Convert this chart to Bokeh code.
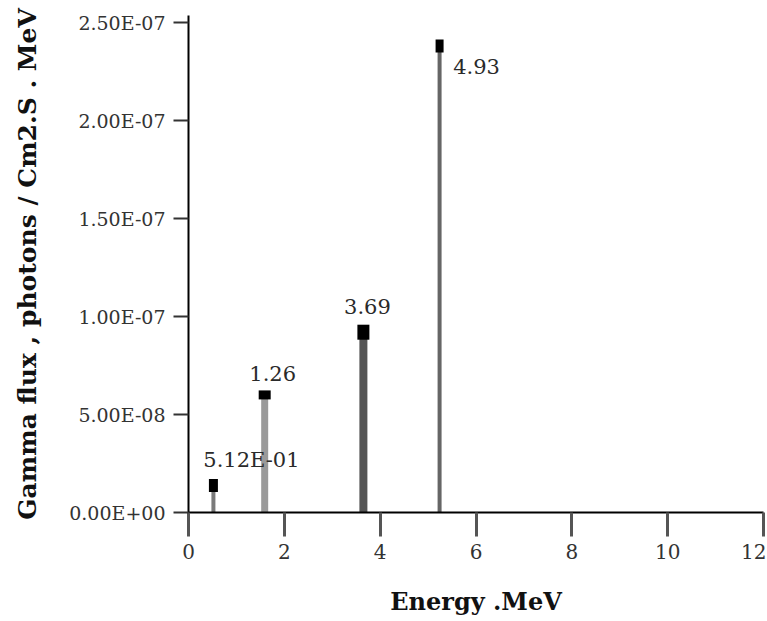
from bokeh.plotting import figure
from bokeh.models import ColumnDataSource, FixedTicker, CustomJSTickFormatter, Range1d
from bokeh.core.properties import value
from bokeh.embed import file_html
from bokeh.resources import INLINE

# Data
energy = [0.52, 1.59, 3.65, 5.24]          # bar positions (MeV, as drawn)
flux = [1.38e-8, 6.0e-8, 9.2e-8, 2.38e-7]  # gamma flux
peak_labels = ["5.12E-01", "1.26", "3.69", "4.93"]

x_ticks = [0, 2, 4, 6, 8, 10, 12]
y_ticks = [0.0, 5e-8, 1e-7, 1.5e-7, 2e-7, 2.5e-7]
y_tick_labels = ["0.00E+00", "5.00E-08", "1.00E-07", "1.50E-07", "2.00E-07", "2.50E-07"]

# Styles
bar_colors = ["#7a7a7a", "#9a9a9a", "#555555", "#666666"]
bar_widths = [4, 7, 8, 4]
mark_w = [9, 12, 12, 8]
mark_h = [13, 9, 15, 13]
lab_dx = [38, 8, 4, 37]
lab_dy = [-25, -21, -26, 20]

src = ColumnDataSource(dict(
    x=energy, y=flux, y0=[0.0] * len(energy), lab=peak_labels,
    col=bar_colors, lw=bar_widths, mw=mark_w, mh=mark_h, dx=lab_dx, dy=lab_dy,
))

p = figure(width=766, height=620, output_backend="svg", toolbar_location=None,
           x_range=Range1d(0, 12), y_range=Range1d(0, 2.536e-7),
           min_border_left=188, min_border_right=3, min_border_top=15, min_border_bottom=108)
p.outline_line_color = None
p.xgrid.visible = False
p.ygrid.visible = False
p.background_fill_color = "white"
p.border_fill_color = "white"

p.segment(x0="x", y0="y0", x1="x", y1="y", line_color="col", line_width="lw", source=src)
p.rect(x="x", y="y", width="mw", height="mh", width_units="screen", height_units="screen",
       fill_color="black", line_color=None, source=src)
p.text(x="x", y="y", text="lab", x_offset="dx", y_offset="dy", source=src,
       text_font=value("DejaVu Serif"), text_font_size="21px", text_color="#2a2a2a",
       text_align="center", text_baseline="middle")

# X axis
xa = p.xaxis[0]
xa.ticker = FixedTicker(ticks=x_ticks)
xa.axis_label = "Energy .MeV"
xa.axis_label_text_font = "DejaVu Serif"
xa.axis_label_text_font_style = "bold"
xa.axis_label_text_font_size = "24px"
xa.axis_label_text_color = "#111111"
xa.axis_label_standoff = 25
xa.major_label_text_font = "DejaVu Serif"
xa.major_label_text_font_size = "20px"
xa.major_label_text_color = "#333333"
xa.major_label_standoff = 7
xa.axis_line_color = "black"
xa.axis_line_width = 2
xa.major_tick_line_color = "#555555"
xa.major_tick_line_width = 3
xa.major_tick_out = 24
xa.major_tick_in = 0
xa.minor_tick_line_color = None

# Y axis
ya = p.yaxis[0]
ya.ticker = FixedTicker(ticks=y_ticks)
ya.formatter = CustomJSTickFormatter(args=dict(tvals=y_ticks, tlabs=y_tick_labels), code="""
    let best = 0, bd = Infinity;
    for (let i = 0; i < tvals.length; i++) {
        const d = Math.abs(tvals[i] - tick);
        if (d < bd) { bd = d; best = i; }
    }
    return tlabs[best];
""")
ya.axis_label = "Gamma flux , photons / Cm2.S . MeV"
ya.axis_label_text_font = "DejaVu Serif"
ya.axis_label_text_font_style = "bold"
ya.axis_label_text_font_size = "25px"
ya.axis_label_text_color = "#111111"
ya.axis_label_standoff = 24
ya.major_label_text_font = "DejaVu Serif"
ya.major_label_text_font_size = "19px"
ya.major_label_text_color = "#333333"
ya.major_label_standoff = 8
ya.axis_line_color = "black"
ya.axis_line_width = 2
ya.major_tick_line_color = "#333333"
ya.major_tick_line_width = 2
ya.major_tick_out = 15
ya.major_tick_in = 0
ya.minor_tick_line_color = None

open("out.html", "w").write(file_html(p, INLINE))
